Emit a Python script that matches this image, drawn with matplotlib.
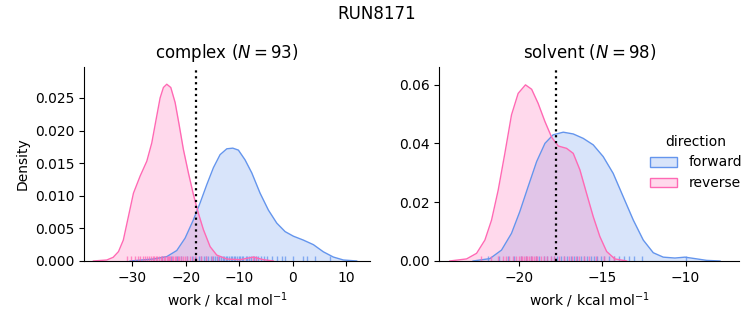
import numpy as np
import matplotlib
matplotlib.use('Agg')
import matplotlib.pyplot as plt
from matplotlib.patches import Patch
from matplotlib.colors import to_rgba

# densidades (x, densidad)
complex_fwd_x = [-30.43, -26.07, -23.56, -21.69, -20.13, -18.58, -17.32, -16.07, -14.83, -13.58, -12.32, -11.2,
                 -10.15, -8.9, -7.64, -6.09, -4.53, -2.96, -1.4, 0.15, 2.02, 3.9, 5.77, 7.64, 9.51, 12.0]
complex_fwd_y = [0.0, 0.0003, 0.00067, 0.0016, 0.0035, 0.0063, 0.0089, 0.0117, 0.0143, 0.0163, 0.0172, 0.0173,
                 0.0170, 0.0155, 0.0135, 0.0104, 0.0078, 0.0058, 0.0045, 0.0038, 0.0032, 0.0025, 0.0014, 0.0006,
                 0.00015, 0.0]
complex_rev_x = [-37.3, -34.8, -33.6, -32.6, -31.7, -30.75, -29.8, -28.56, -27.3, -26.37, -25.56, -24.81, -24.19,
                 -23.56, -22.81, -22.0, -21.25, -20.45, -19.51, -18.58, -17.64, -16.7, -15.45, -14.2, -12.3,
                 -9.83, -7.34, -5.47, -3.6]
complex_rev_y = [0.0, 0.00015, 0.00056, 0.00144, 0.0032, 0.0068, 0.0104, 0.0130, 0.0153, 0.0181, 0.0217, 0.0250,
                 0.0266, 0.0271, 0.0266, 0.0243, 0.0209, 0.0171, 0.0135, 0.0102, 0.0073, 0.0048, 0.0022, 0.0009,
                 0.0003, 0.0002, 0.0006, 0.0002, 0.0]

solvent_fwd_x = [-22.77, -21.76, -21.06, -20.46, -19.96, -19.46, -18.95, -18.45, -17.96, -17.35, -16.75, -16.15,
                 -15.55, -14.95, -14.35, -13.75, -13.14, -12.54, -11.94, -11.34, -10.64, -10.04, -9.43, -8.73, -7.93]
solvent_fwd_y = [0.0, 0.0008, 0.0037, 0.0094, 0.0168, 0.0253, 0.0338, 0.0400, 0.0429, 0.0438, 0.0432, 0.0417,
                 0.0395, 0.0355, 0.0298, 0.0219, 0.0139, 0.0071, 0.0028, 0.0013, 0.0010, 0.0013, 0.0008, 0.0002, 0.0]
solvent_rev_x = [-24.17, -23.16, -22.56, -22.06, -21.66, -21.26, -20.86, -20.46, -20.06, -19.62, -19.25, -18.86,
                 -18.45, -18.05, -17.65, -17.15, -16.75, -16.35, -15.95, -15.55, -15.15, -14.74, -14.25, -13.54]
solvent_rev_y = [0.0, 0.0007, 0.0026, 0.0071, 0.0139, 0.0241, 0.0366, 0.0497, 0.0570, 0.0599, 0.0584, 0.0536,
                 0.0474, 0.0421, 0.0391, 0.0383, 0.0366, 0.0310, 0.0230, 0.0151, 0.0083, 0.0032, 0.0007, 0.0]

# trabajos individuales (rug)
complex_fwd_w = [-24.5, -22.8, -21.6, -20.9, -19.7, -18.8, -18.2, -17.5, -17.1, -16.6, -16.2, -15.8, -15.3,
                 -14.9, -14.6, -14.2, -13.8, -13.5, -13.1, -12.8, -12.5, -12.2, -11.9, -11.6, -11.3, -11.0,
                 -10.7, -10.4, -10.1, -9.8, -9.5, -9.2, -8.8, -8.5, -8.1, -7.7, -7.3, -6.9, -6.4, -5.9, -5.3,
                 -4.7, -3.9, -3.0, -2.0, -1.4, 0.1, 2.0, 2.7, 4.2, 7.0]
complex_rev_w = [-31.0, -30.2, -29.6, -29.0, -28.5, -28.1, -27.7, -27.3, -26.9, -26.6, -26.2, -25.9, -25.6,
                 -25.3, -25.0, -24.7, -24.4, -24.1, -23.9, -23.6, -23.4, -23.1, -22.9, -22.6, -22.4, -22.1,
                 -21.8, -21.5, -21.2, -20.9, -20.5, -20.1, -19.7, -19.2, -18.7, -18.0, -17.2, -16.3, -15.1,
                 -14.0, -7.5, -6.8]
solvent_fwd_w = [-21.9, -21.2, -20.7, -20.3, -19.9, -19.6, -19.3, -19.0, -18.8, -18.5, -18.3, -18.1, -17.9,
                 -17.7, -17.5, -17.3, -17.1, -16.9, -16.7, -16.5, -16.3, -16.1, -15.9, -15.7, -15.5, -15.3,
                 -15.1, -14.9, -14.6, -14.3, -14.0, -13.7, -13.4, -13.1, -12.6, -10.0]
solvent_rev_w = [-22.3, -21.7, -21.3, -21.0, -20.8, -20.6, -20.4, -20.2, -20.0, -19.9, -19.8, -19.7, -19.6,
                 -19.5, -19.4, -19.3, -19.2, -19.1, -19.0, -18.9, -18.7, -18.5, -18.3, -18.1, -17.9, -17.6,
                 -17.3, -17.0, -16.8, -16.6, -16.4, -16.1, -15.8, -15.4, -14.9, -14.3]

dG = {'complex': -18.13, 'solvent': -17.81}
N = {'complex': 93, 'solvent': 98}

azul = '#6495ED'
rosa = '#FF69B4'

fig = plt.figure(figsize=(7.53, 3.25), dpi=100)
ax1 = fig.add_axes([0.112, 0.197, 0.3794, 0.598])
ax2 = fig.add_axes([0.5834, 0.197, 0.3984, 0.598])

def panel(ax, fx, fy, rx, ry, fw, rw, fase):
    for xs, ys, ws, c in [(fx, fy, fw, azul), (rx, ry, rw, rosa)]:
        ax.fill_between(xs, ys, 0, color=c, alpha=0.25, lw=0)
        ax.plot(xs, ys, color=c, lw=1)
        ax.vlines(ws, 0, 0.025, transform=ax.get_xaxis_transform(), color=c, alpha=0.75, lw=1)
    ax.axvline(dG[fase], color='k', ls=':', lw=1.6)
    ax.set_title(fase + ' ($N = %d$)' % N[fase], fontsize=12)
    ax.set_xlabel('work / kcal mol$^{-1}$')
    ax.spines['top'].set_visible(False)
    ax.spines['right'].set_visible(False)

panel(ax1, complex_fwd_x, complex_fwd_y, complex_rev_x, complex_rev_y, complex_fwd_w, complex_rev_w, 'complex')
panel(ax2, solvent_fwd_x, solvent_fwd_y, solvent_rev_x, solvent_rev_y, solvent_fwd_w, solvent_rev_w, 'solvent')

ax1.set_xlim(-39, 14.5)
ax1.set_ylim(0, 0.0298)
ax1.set_xticks([-30, -20, -10, 0, 10])
ax1.set_yticks([0, 0.005, 0.01, 0.015, 0.02, 0.025])
ax1.set_yticklabels(['%.3f' % v for v in [0, 0.005, 0.01, 0.015, 0.02, 0.025]])
ax1.set_ylabel('Density')

ax2.set_xlim(-24.8, -6.77)
ax2.set_ylim(0, 0.0661)
ax2.set_xticks([-20, -15, -10])
ax2.set_yticks([0, 0.02, 0.04, 0.06])
ax2.set_yticklabels(['%.2f' % v for v in [0, 0.02, 0.04, 0.06]])

handles = [Patch(facecolor=to_rgba(azul, 0.25), edgecolor=azul, lw=1, label='forward'),
           Patch(facecolor=to_rgba(rosa, 0.25), edgecolor=rosa, lw=1, label='reverse')]
ax2.legend(handles=handles, title='direction', loc='center left',
           bbox_to_anchor=(0.846, 0.5), bbox_transform=fig.transFigure, frameon=False)

fig.suptitle('RUN8171', fontsize=12, y=0.985)
fig.savefig('out.png')
